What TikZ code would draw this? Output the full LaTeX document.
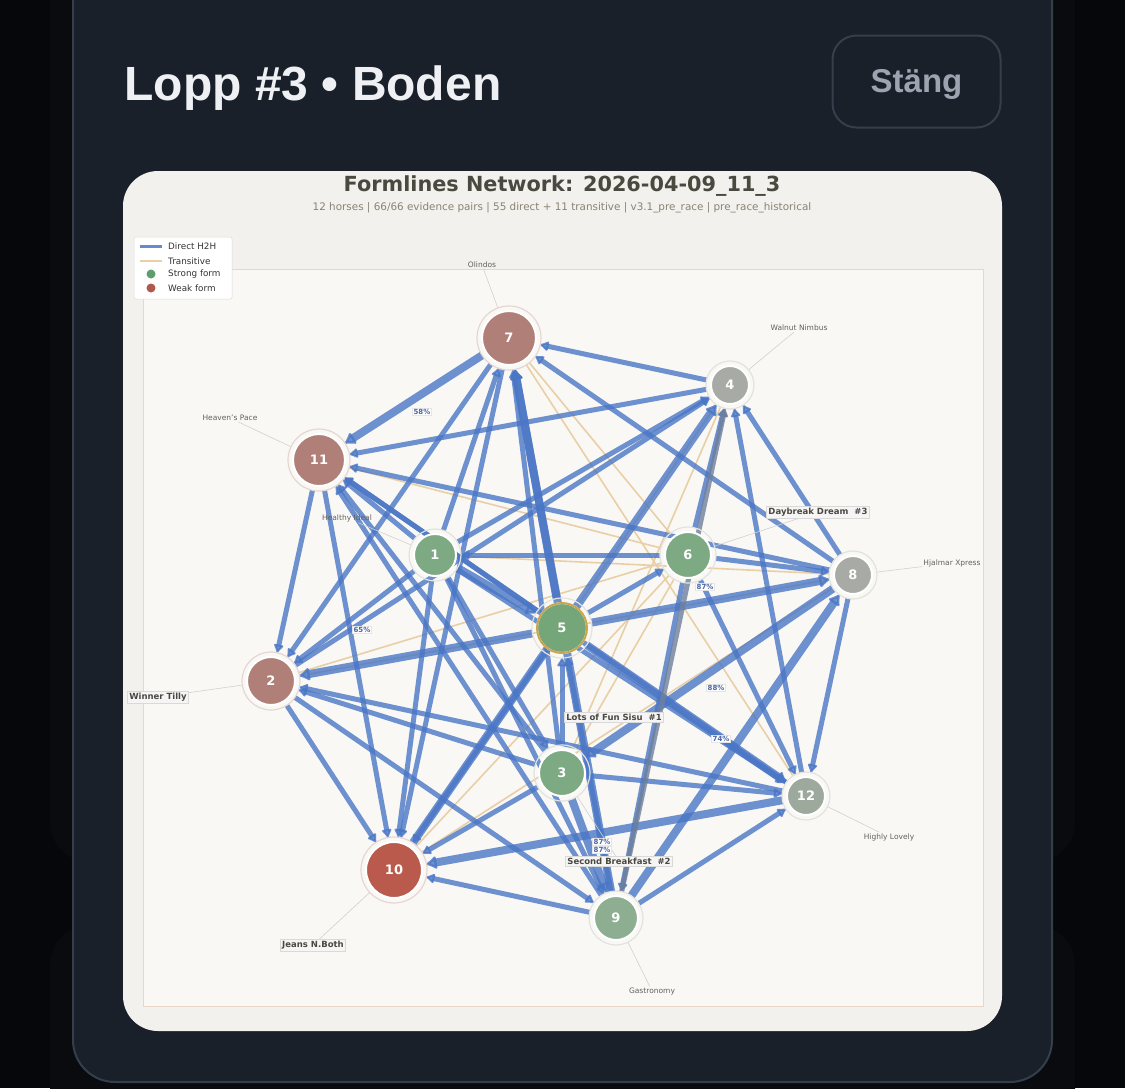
\documentclass[tikz,border=0pt]{standalone}
\usepackage{fontspec}
\setmainfont{DejaVu Sans}
\newfontfamily\uifont{Liberation Sans}
\usetikzlibrary{arrows.meta,positioning,backgrounds}

\definecolor{pagebg}{HTML}{05070A}
\definecolor{shadowcard}{HTML}{090B0F}
\definecolor{cardbg}{HTML}{1A202A}
\definecolor{cardline}{HTML}{353E4B}
\definecolor{headtext}{HTML}{EEF0F3}
\definecolor{btntext}{HTML}{9BA4B0}
\definecolor{chartbg}{HTML}{F2F1ED}
\definecolor{plotbg}{HTML}{F9F8F5}
\definecolor{plotline}{HTML}{EAD6C8}
\definecolor{charttitle}{HTML}{4B4840}
\definecolor{chartsub}{HTML}{8B8272}
\definecolor{edgeblue}{HTML}{4A76C6}
\definecolor{edgegray}{HTML}{6F7F9A}
\definecolor{edgetan}{HTML}{E9CFA6}
\definecolor{weakform}{HTML}{B07F78}
\definecolor{weakred}{HTML}{B95A4C}
\definecolor{strongform}{HTML}{7DA983}
\definecolor{topform}{HTML}{74A679}
\definecolor{paleform}{HTML}{8DAE91}
\definecolor{midform}{HTML}{A7AAA5}
\definecolor{midgreen}{HTML}{9DA99D}
\definecolor{goldring}{HTML}{C9A64C}
\definecolor{ringpink}{HTML}{E6D6D2}
\definecolor{ringgray}{HTML}{E1E3DF}
\definecolor{pcttext}{HTML}{4D66A8}
\definecolor{legenddot}{HTML}{5F9E6C}
\definecolor{legendred}{HTML}{B0584C}

\pgfdeclarelayer{edgelayer}
\pgfsetlayers{background,edgelayer,main}

\tikzset{
  horse/.style={circle, draw=white, line width=2pt, text=white,
    font=\bfseries\fontsize{13}{13}\selectfont, inner sep=0pt, outer sep=5pt},
  h2h/.style={draw=edgeblue, draw opacity=.8, fill opacity=.8, line width=5pt,
    -{Latex[length=10pt,width=12pt,round]}},
  h2hthick/.style={h2h, line width=8pt, -{Latex[length=12pt,width=16pt,round]}},
  transitive/.style={draw=edgetan, line width=1.6pt},
  leader/.style={draw=black!18, line width=.6pt},
  namelbl/.style={font=\fontsize{7.5}{7.5}\selectfont, text=black!62, inner sep=1pt},
  namebox/.style={font=\bfseries\fontsize{8.5}{8.5}\selectfont, text=charttitle,
    fill=white!96!black, draw=black!15, line width=.5pt, inner sep=1.8pt},
  pct/.style={font=\bfseries\fontsize{7}{7}\selectfont, text=pcttext, fill=white,
    draw=black!10, line width=.4pt, inner sep=1pt},
  legendtxt/.style={font=\fontsize{8.8}{8.8}\selectfont, text=black!80, anchor=west, inner sep=0pt}
}

\begin{document}
\begin{tikzpicture}[x=1pt, y=-1pt]
  \useasboundingbox (0,0) rectangle (1125,1088);

  % page and cards
  \begin{scope}[on background layer]
    \fill[pagebg] (0,0) rectangle (1125,1088);
    \fill[shadowcard, rounded corners=40pt] (50,-60) rectangle (1075,862);
    \fill[shadowcard, rounded corners=40pt] (50,925) rectangle (1075,1140);
    \filldraw[fill=cardbg, draw=cardline, line width=2pt, rounded corners=42pt] (73,-60) rectangle (1052,1082);
    \fill[chartbg, rounded corners=35pt] (123,171) rectangle (1002,1031);
    \filldraw[fill=plotbg, draw=plotline, line width=.8pt] (143,269) rectangle (983,1006);
  \end{scope}

  \node[anchor=base west, font=\uifont\bfseries\fontsize{48}{48}\selectfont, text=headtext] (heading) at (121,100) {Lopp \#3 • Boden};
  \node[draw=cardline, line width=2pt, rounded corners=24pt, minimum width=168pt, minimum height=92pt] (closebtn) at (916.5,81.5) {};
  \node[text=btntext, font=\uifont\bfseries\fontsize{33}{33}\selectfont] (closetxt) at (916.5,84) {Stäng};

  \node[font=\bfseries\fontsize{20.8}{21}\selectfont, text=charttitle] (ctitle) at (562,186) {Formlines Network: 2026-04-09\_11\_3};
  \node[font=\fontsize{10.4}{10.4}\selectfont, text=chartsub] (csub) at (562,208)
    {12 horses | 66/66 evidence pairs | 55 direct + 11 transitive | v3.1\_pre\_race | pre\_race\_historical};

  % legend
  \node[draw=black!14, fill=white, line width=.5pt, rounded corners=2pt, minimum width=98pt, minimum height=62pt] (legend) at (183,268) {};
  \draw[edgeblue!85, line width=3pt] (140,246) -- (162,246);
  \node[legendtxt] (lgdirect) at (168,246) {Direct H2H};
  \draw[transitive] (140,261) -- (162,261);
  \node[legendtxt] (lgtrans) at (168,261) {Transitive};
  \fill[legenddot] (151,274) circle (4.5pt);
  \node[legendtxt] (lgstrong) at (168,274) {Strong form};
  \fill[legendred] (151,288) circle (4.5pt);
  \node[legendtxt] (lgweak) at (168,288) {Weak form};

  % horses
  \foreach \n/\x/\y/\r/\c/\rc in {
      7/509/338/27/weakform/ringpink, 11/319/460/26/weakform/ringpink,
      2/271/681/24/weakform/ringpink, 10/394/870/28/weakred/ringpink,
      1/435/555/21/strongform/ringgray, 6/688/555/23/strongform/ringgray,
      3/562/773/23/strongform/ringgray, 9/616/918/22/paleform/ringgray,
      4/730/385/19/midform/ringgray, 8/853/575/19/midform/ringgray,
      12/806/796/19/midgreen/ringgray, 5/562/628/25/topform/ringgray}{
    \pgfmathsetmacro\diam{2*\r}
    \pgfmathsetmacro\ringr{\r+5}
    \node[horse, fill=\c, minimum size=\diam pt] (h\n) at (\x,\y) {\n};
    \draw[\rc, line width=1.2pt] (h\n.center) circle (\ringr pt);
  }
  \draw[goldring, line width=2pt] (h5.center) circle (25pt);

  % edges
  \begin{pgfonlayer}{edgelayer}
    \foreach \a/\b in {7/6, 5/4, 11/6, 1/8, 2/6, 10/6, 3/6, 7/12, 2/8, 10/8, 3/4}
      \draw[transitive] (h\a) -- (h\b);
    \foreach \a/\b in {4/7, 8/7, 1/7, 3/7, 7/2, 7/10, 4/11, 8/11, 1/11, 5/11, 3/11,
        9/11, 12/11, 11/2, 11/10, 1/4, 2/4, 6/4, 12/4, 8/4, 6/1, 1/2, 1/10, 1/3,
        1/9, 1/12, 6/8, 5/6, 6/9, 6/12, 8/12, 3/5, 9/5, 5/10, 3/2, 12/2, 2/10,
        2/9, 3/10, 3/12, 9/10, 9/12}
      \draw[h2h] (h\a) -- (h\b);
    \foreach \a/\b in {7/11, 5/7, 9/7, 10/4, 5/8, 8/3, 9/8, 12/10, 5/12, 1/5, 5/2, 3/9}
      \draw[h2hthick] (h\a) -- (h\b);
    \draw[h2h, draw=edgegray] (h9) -- (h4);
  \end{pgfonlayer}

  % horse names
  \node[namelbl] (nm7) at (482,265) {Olindos};
  \node[namelbl] (nm4) at (799,328) {Walnut Nimbus};
  \node[namelbl] (nm11) at (230,418) {Heaven's Pace};
  \node[namelbl] (nm1) at (347,518) {Healthy Ideal};
  \node[namebox] (nm6) at (818,512) {Daybreak Dream\ \ \#3};
  \node[namelbl] (nm8) at (952,563) {Hjalmar Xpress};
  \node[namebox] (nm2) at (158,697) {Winner Tilly};
  \node[namebox] (nm5) at (614,717) {Lots of Fun Sisu\ \ \#1};
  \node[namebox] (nm3) at (619,861) {Second Breakfast\ \ \#2};
  \node[namebox] (nm10) at (313,945) {Jeans N.Both};
  \node[namelbl] (nm12) at (889,837) {Highly Lovely};
  \node[namelbl] (nm9) at (652,991) {Gastronomy};
  \begin{pgfonlayer}{edgelayer}
    \foreach \n in {7, 4, 11, 1, 6, 8, 2, 3, 10, 12, 9}
      \draw[leader] (h\n) -- (nm\n);
  \end{pgfonlayer}

  % win percentages
  \node[pct] (p58) at (422,412) {58\%};
  \node[pct] (p65) at (362,630) {65\%};
  \node[pct] (p87a) at (705,587) {87\%};
  \node[pct] (p88) at (716,688) {88\%};
  \node[pct] (p74) at (721,739) {74\%};
  \node[pct] (p87b) at (602,842) {87\%};
  \node[pct] (p87c) at (602,850) {87\%};
\end{tikzpicture}
\end{document}
